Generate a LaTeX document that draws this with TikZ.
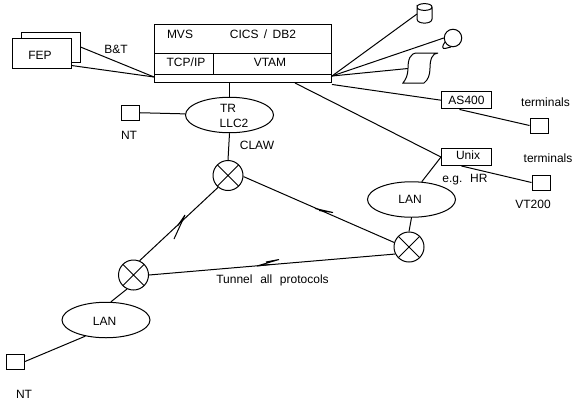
\documentclass[tikz,border=0pt]{standalone}
\usepackage{fontspec}
\setmainfont{Liberation Sans}
\usetikzlibrary{shapes.geometric}
\def\u{0.75pt}
\def\wsp{\hskip 5.8pt\relax}
\tikzset{
  x=0.75pt,y=-0.75pt,
  every path/.style={line width=0.75pt},
  box/.style={draw,rectangle,inner sep=0pt,minimum width=#1*\u},
  boxh/.style={minimum height=#1*\u},
  lan/.style={draw,ellipse,inner sep=0pt,minimum width=88*\u,minimum height=35.5*\u},
  xc/.style={draw,circle,inner sep=0pt,minimum size=30*\u,
    path picture={\draw (path picture bounding box.north west)--(path picture bounding box.south east)
      (path picture bounding box.north east)--(path picture bounding box.south west);}},
  term/.style={draw,rectangle,inner sep=0pt,minimum width=18*\u,minimum height=15*\u},
  lbl/.style={inner sep=0pt,font=\fontsize{9}{11}\selectfont}
}
\begin{document}
\begin{tikzpicture}
\useasboundingbox (0,0) rectangle (578,404);
% mainframe
\node[box=177,boxh=58.5] (main) at (243,53.7) {};
\draw (main.west |- 0,53) -- (main.east |- 0,53);
\draw (main.west |- 0,74) -- (main.east |- 0,74);
\draw (213,53) -- (213,74);
\node[lbl] (mvs) at (180,34) {MVS};
\node[lbl] (cics) at (263,34) {CICS\, /\, DB2};
\node[lbl] (tcp) at (186,62) {TCP/IP};
\node[lbl] (vtam) at (270,62) {VTAM};
% FEP
\node[box=59,boxh=30] (fepb) at (50.5,47) {};
\node[box=59,boxh=30,fill=white] (fep) at (41.5,53) {};
\node[lbl] (feplbl) at (40,55) {FEP};
\node[lbl] (bt) at (116,49) {B\&T};
\coordinate (hubw) at (154,77);
\draw (fepb.east |- 0,47) -- (hubw);
\draw (fep.south east) ++(0,-3) -- (hubw);
% TR
\node[lan] (tr) at (229.5,115) {};
\node[lbl] (trl) at (228,108) {TR};
\node[lbl] (llc) at (234,123) {LLC2};
\node[term] (nt1) at (130.5,112.5) {};
\node[lbl] (nt1l) at (129,135) {NT};
\draw (nt1) -- (tr);
\draw (tr.north |- main.south) -- (tr.north);
\node[lbl] (claw) at (257,145) {CLAW};
% crossed circles
\node[xc] (c1) at (228,175.5) {};
\node[xc] (c2) at (409,247) {};
\node[xc] (c3) at (133.5,275) {};
\draw (tr.south) -- (c1.north);
\draw (c1.-4) -- (c2.163);
\draw (c1.230) -- (c3.67);
\draw (c3.0) -- (c2.207);
% zigzags
\draw (315,208.5) -- (333,212.5) -- (319,210.5);
\draw (174,239) -- (185,215) -- (177.5,226);
\draw (266,262) -- (279,259.5) -- (257,266) -- (270,264.5);
\node[lbl] (tun) at (272.5,280) {Tunnel\wsp all\wsp protocols};
% LANs
\node[lan] (lan1) at (411.5,199.5) {};
\node[lbl] (lan1l) at (410,199) {LAN};
\node[lan] (lan2) at (106,320) {};
\node[lbl] (lan2l) at (104.5,321) {LAN};
\draw (lan1.south) -- (c2.north);
\draw (c3.-115) -- (lan2.75);
% right boxes
\node[box=50,boxh=17.5,lbl] (as) at (466.5,100.2) {AS400};
\node[box=50,boxh=17] (unix) at (466.5,157) {};
\node[lbl] (unixl) at (468,155) {Unix};
\node[term] (t1) at (539,125.5) {};
\node[term] (t2) at (541,182.5) {};
\node[term] (nt2) at (15.5,361.5) {};
\node[lbl] (t1l) at (545.5,102) {terminals};
\node[lbl] (t2l) at (548,158) {terminals};
\node[lbl] (vt) at (533,204) {VT200};
\node[lbl] (hr) at (465,180) {e.g.\wsp HR};
\node[lbl] (nt2l) at (24,394) {NT};
\draw (main.south east) ++(0,1) -- (as.west);
\draw (unix.west) -- (295,83);
\draw (as.south) ++(-7,0) -- (t1.west);
\draw (unix.south) ++(-5,0) -- (t2.west);
\draw (unix.west) -- (lan1.60);
\draw (lan2.218) -- (nt2.east);
% peripherals
\coordinate (db) at (417,14);
\draw (417,7) .. controls (417,2.5) and (432,2.5) .. (432,7)
  .. controls (432,11.5) and (417,11.5) .. (417,7)
  -- (417,19) .. controls (417,24.5) and (432,24.5) .. (432,19) -- (432,7);
\node[draw,circle,inner sep=0pt,minimum size=17.5*\u] (tape) at (453,38) {};
\draw (445,42) .. controls (442,46) and (442,49) .. (445,48.5) -- (451,47);
\coordinate (hub) at (332,76);
\draw (hub) -- (db);
\draw (hub) -- (tape.west);
\coordinate (scr) at (408,68.5);
\draw (hub) -- (scr);
\draw (438,53) -- (417,53) .. controls (410,53) and (408,60) .. (408,68)
  .. controls (408,75) and (406,79) .. (403,83) -- (424,83)
  .. controls (428,80) and (430,75) .. (430,68)
  .. controls (430,60) and (432,53) .. (438,53);
\end{tikzpicture}
\end{document}
